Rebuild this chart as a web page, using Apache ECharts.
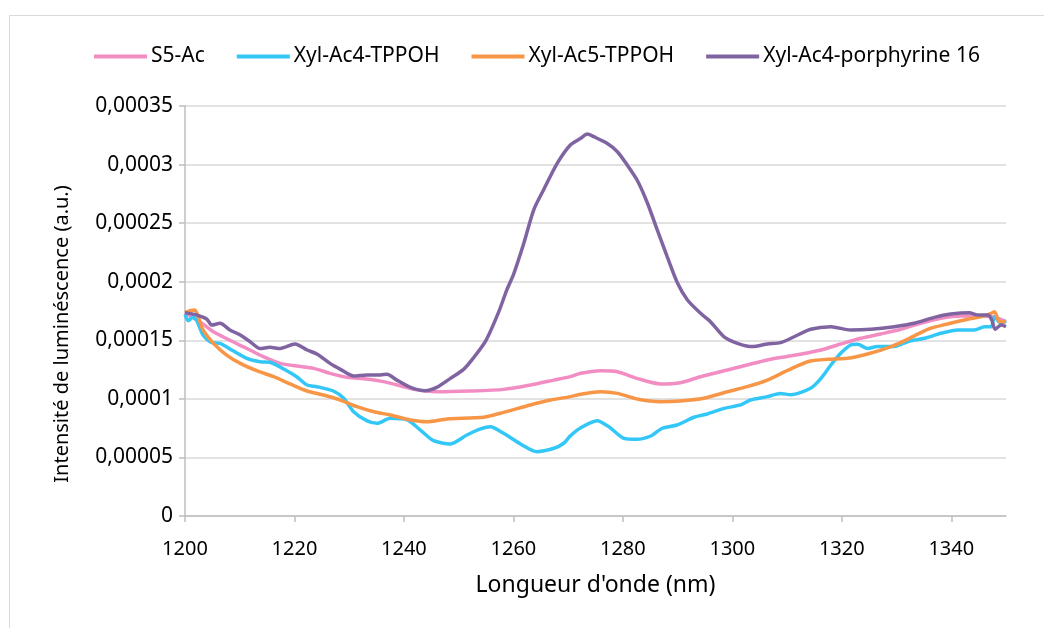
<!DOCTYPE html>
<html>
<head>
<meta charset="utf-8">
<script src="https://cdn.jsdelivr.net/npm/echarts@6/dist/echarts.min.js"></script>
<style>
  html, body { margin: 0; padding: 0; background: #fff; }
  #main { width: 1044px; height: 628px; }
</style>
</head>
<body>
<div id="main"></div>
<script>
// series names (legend order)
var seriesNames = ['S5-Ac', 'Xyl-Ac4-TPPOH', 'Xyl-Ac5-TPPOH', 'Xyl-Ac4-porphyrine 16'];
var xTicks = [1200, 1220, 1240, 1260, 1280, 1300, 1320, 1340];
var yTitle = 'Intensité de luminéscence (a.u.)';

// S5-Ac
var s5Nm = [1200, 1202.7, 1205.2, 1208.2, 1211.3, 1214.3, 1217.4, 1220.4, 1223.5, 1226.5, 1229.6, 1233.2, 1236.5, 1239.5, 1241.8, 1246.0, 1252.1, 1258.2, 1263.1, 1267.4, 1270.4, 1272.3, 1275.9, 1279.0, 1282.6, 1286.9, 1290.5, 1294.2, 1299.1, 1302.7, 1306.4, 1309.8, 1312.4, 1316.2, 1319.8, 1323.5, 1327.1, 1330.8, 1334.4, 1338.1, 1341.8, 1345.4, 1347.9, 1350];
var s5Val = [0.0001736, 0.0001659, 0.0001573, 0.0001500, 0.0001430, 0.0001360, 0.0001303, 0.0001280, 0.0001260, 0.0001218, 0.0001184, 0.0001170, 0.0001145, 0.0001110, 0.0001081, 0.0001061, 0.0001067, 0.0001081, 0.0001118, 0.0001160, 0.0001190, 0.0001218, 0.0001240, 0.0001232, 0.0001175, 0.0001127, 0.0001138, 0.0001189, 0.0001246, 0.0001289, 0.0001332, 0.0001360, 0.0001380, 0.0001417, 0.0001468, 0.0001517, 0.0001554, 0.0001594, 0.0001645, 0.0001688, 0.0001707, 0.0001707, 0.0001696, 0.0001659];

// Xyl-Ac4-TPPOH
var ac4Nm = [1200, 1200.6, 1201.4, 1202.1, 1203.3, 1204.9, 1206.4, 1208.8, 1211.3, 1213.7, 1215.5, 1218.6, 1220.4, 1222.3, 1224.1, 1227.1, 1229.0, 1230.8, 1233.2, 1235.1, 1237.5, 1240.6, 1243.0, 1245.4, 1248.5, 1251.5, 1254.0, 1255.8, 1258.2, 1261.3, 1264.3, 1267.4, 1269.2, 1270.4, 1272.3, 1275.3, 1277.5, 1280.2, 1282.6, 1285.1, 1287.2, 1289.9, 1293.0, 1295.4, 1298.5, 1301.5, 1303.3, 1306.4, 1308.8, 1310.7, 1314.3, 1316.2, 1318.0, 1319.8, 1321.6, 1322.9, 1324.7, 1326.5, 1329.6, 1332.0, 1335.1, 1338.1, 1341.2, 1344.2, 1346.1, 1347.3, 1347.9, 1349.1, 1350];
var ac4Val = [0.0001720, 0.0001667, 0.0001696, 0.0001673, 0.0001545, 0.0001480, 0.0001474, 0.0001410, 0.0001346, 0.0001317, 0.0001312, 0.0001240, 0.0001189, 0.0001118, 0.0001104, 0.0001067, 0.0001005, 0.0000890, 0.0000814, 0.0000791, 0.0000834, 0.0000820, 0.0000734, 0.0000643, 0.0000615, 0.0000691, 0.0000743, 0.0000762, 0.0000706, 0.0000615, 0.0000549, 0.0000578, 0.0000621, 0.0000684, 0.0000754, 0.0000814, 0.0000760, 0.0000663, 0.0000655, 0.0000683, 0.0000749, 0.0000777, 0.0000843, 0.0000871, 0.0000919, 0.0000948, 0.0000990, 0.0001019, 0.0001045, 0.0001036, 0.0001090, 0.0001175, 0.0001289, 0.0001389, 0.0001460, 0.0001466, 0.0001430, 0.0001446, 0.0001446, 0.0001488, 0.0001517, 0.0001560, 0.0001588, 0.0001588, 0.0001616, 0.0001616, 0.0001700, 0.0001645, 0.0001667];

// Xyl-Ac5-TPPOH
var ac5Nm = [1200, 1200.9, 1201.8, 1202.4, 1203.3, 1205.2, 1207.6, 1210.1, 1213.1, 1216.2, 1219.2, 1222.3, 1225.3, 1228.4, 1231.4, 1234.5, 1237.5, 1241.2, 1244.2, 1247.9, 1254.6, 1258.2, 1263.1, 1266.8, 1270.0, 1272.3, 1275.9, 1279.0, 1282.6, 1286.9, 1290.5, 1294.8, 1299.1, 1302.7, 1306.4, 1309.5, 1311.8, 1314.3, 1317.4, 1321.0, 1324.7, 1329.0, 1332.0, 1335.7, 1339.3, 1343.0, 1345.4, 1347.3, 1347.9, 1348.8, 1350];
var ac5Val = [0.0001736, 0.0001753, 0.0001759, 0.0001700, 0.0001588, 0.0001474, 0.0001374, 0.0001303, 0.0001240, 0.0001189, 0.0001127, 0.0001067, 0.0001033, 0.0000990, 0.0000933, 0.0000890, 0.0000862, 0.0000820, 0.0000805, 0.0000828, 0.0000843, 0.0000885, 0.0000948, 0.0000990, 0.0001015, 0.0001039, 0.0001061, 0.0001047, 0.0000999, 0.0000976, 0.0000982, 0.0001005, 0.0001061, 0.0001104, 0.0001160, 0.0001230, 0.0001280, 0.0001323, 0.0001338, 0.0001346, 0.0001383, 0.0001446, 0.0001508, 0.0001594, 0.0001639, 0.0001679, 0.0001700, 0.0001730, 0.0001744, 0.0001659, 0.0001659];

// Xyl-Ac4-porphyrine 16
var porNm = [1200, 1202.1, 1204.0, 1204.9, 1206.4, 1208.2, 1210.1, 1211.9, 1213.7, 1215.5, 1217.4, 1220.1, 1222.3, 1224.1, 1226.5, 1228.4, 1230.8, 1233.2, 1235.7, 1236.9, 1238.7, 1241.2, 1243.9, 1246.0, 1248.5, 1250.9, 1252.7, 1255.0, 1257.3, 1258.8, 1260.1, 1261.9, 1263.7, 1265.5, 1268.0, 1270.4, 1272.3, 1273.5, 1274.7, 1277.1, 1279.0, 1280.8, 1282.6, 1284.5, 1286.3, 1288.1, 1290.0, 1291.8, 1294.2, 1296.0, 1298.5, 1301.2, 1303.7, 1306.4, 1308.8, 1311.3, 1314.3, 1318.0, 1321.6, 1325.3, 1329.6, 1333.2, 1336.9, 1339.9, 1343.3, 1344.8, 1346.7, 1347.4, 1348.0, 1349.1, 1350];
var porVal = [0.0001736, 0.0001716, 0.0001680, 0.0001630, 0.0001645, 0.0001588, 0.0001545, 0.0001488, 0.0001430, 0.0001440, 0.0001430, 0.0001468, 0.0001417, 0.0001383, 0.0001303, 0.0001252, 0.0001195, 0.0001204, 0.0001204, 0.0001210, 0.0001160, 0.0001098, 0.0001070, 0.0001098, 0.0001175, 0.0001252, 0.0001350, 0.0001500, 0.0001740, 0.0001930, 0.0002072, 0.0002328, 0.0002612, 0.0002783, 0.0003010, 0.0003167, 0.0003224, 0.0003261, 0.0003238, 0.0003182, 0.0003110, 0.0002996, 0.0002868, 0.0002670, 0.0002440, 0.0002214, 0.0001987, 0.0001844, 0.0001730, 0.0001659, 0.0001530, 0.0001470, 0.0001446, 0.0001468, 0.0001480, 0.0001530, 0.0001594, 0.0001616, 0.0001588, 0.0001594, 0.0001616, 0.0001645, 0.0001696, 0.0001724, 0.0001736, 0.0001716, 0.0001716, 0.0001673, 0.0001594, 0.0001630, 0.0001616];

var colors = ['#F28DC3', '#33C7F7', '#F79646', '#8064A2'];

function zip(a, b) {
    return a.map(function (v, i) { return [v, b[i]]; });
}
var seriesData = [zip(s5Nm, s5Val), zip(ac4Nm, ac4Val), zip(ac5Nm, ac5Val), zip(porNm, porVal)];

var font = '"Noto Sans", "Open Sans", sans-serif';
var myChart = echarts.init(document.getElementById('main'), null, { renderer: 'canvas' });

var option = {
    animation: false,
    backgroundColor: '#fff',
    color: colors,
    textStyle: { fontFamily: font },
    graphic: [
        { type: 'line', shape: { x1: 9.5, y1: 15.5, x2: 1044, y2: 15.5 }, style: { stroke: '#d9d9d9', lineWidth: 1 } },
        { type: 'line', shape: { x1: 9.5, y1: 15.5, x2: 9.5, y2: 628 }, style: { stroke: '#d9d9d9', lineWidth: 1 } },
        // y axis title, placed like the original (slightly below plot centre)
        {
            type: 'text', x: 62, y: 334, rotation: Math.PI / 2,
            style: { text: yTitle, fill: '#000', font: '20px ' + font, textAlign: 'center', textVerticalAlign: 'middle' }
        }
    ],
    legend: {
        left: 89,
        top: 41,
        icon: 'rect',
        itemWidth: 53,
        itemHeight: 4,
        itemGap: 32,
        textStyle: { fontSize: 21, color: '#000', fontFamily: font, padding: [0, 0, 0, -1] },
        data: seriesNames
    },
    grid: { left: 185, right: 38, top: 106, bottom: 112 },
    xAxis: {
        type: 'value',
        min: 1200,
        max: 1350,
        interval: 20,
        name: "Longueur d'onde (nm)",
        nameLocation: 'middle',
        nameGap: 58,
        nameTextStyle: { fontSize: 23, color: '#000' },
        axisLine: { lineStyle: { color: '#bfbfbf', width: 1.5 } },
        axisTick: { show: true, length: 6, customValues: xTicks, lineStyle: { color: '#bfbfbf', width: 1.5 } },
        axisLabel: {
            customValues: xTicks,
            margin: 23,
            fontSize: 20,
            color: '#000',
            formatter: function (v) { return String(v); }
        },
        splitLine: { show: false }
    },
    yAxis: {
        type: 'value',
        min: 0,
        max: 0.00035,
        interval: 0.00005,
        axisLine: { show: true, lineStyle: { color: '#bfbfbf', width: 1.5 } },
        axisTick: { show: true, length: 6, lineStyle: { color: '#bfbfbf', width: 1.5 } },
        axisLabel: {
            margin: 12,
            fontSize: 21,
            color: '#000',
            formatter: function (v) {
                return String(parseFloat(v.toFixed(5))).replace('.', ',');
            }
        },
        splitLine: { lineStyle: { color: '#d9d9d9', width: 1.5 } }
    },
    series: seriesNames.map(function (name, i) {
        return {
            name: name,
            type: 'line',
            data: seriesData[i],
            smooth: 0.25,
            showSymbol: false,
            lineStyle: { width: 3.5, color: colors[i] },
            itemStyle: { color: colors[i] }
        };
    })
};

myChart.setOption(option);
</script>
</body>
</html>
